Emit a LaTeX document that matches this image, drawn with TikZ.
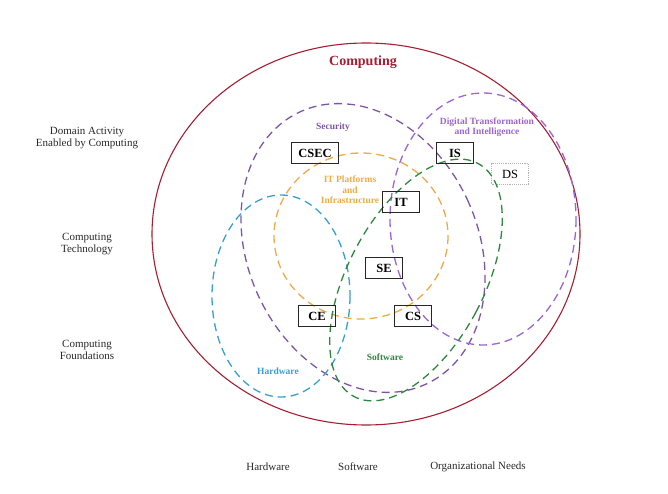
\documentclass[tikz,border=0pt]{standalone}
\usepackage{xcolor}
\usepackage{fontspec}
\setmainfont{Liberation Serif}
\usepackage{tikz}
\usetikzlibrary{positioning}
\definecolor{computingred}{RGB}{165,30,50}
\definecolor{securitypurple}{RGB}{125,85,165}
\definecolor{digitalpurple}{RGB}{155,100,215}
\definecolor{platformorange}{RGB}{238,170,70}
\definecolor{hardwareblue}{RGB}{55,160,210}
\definecolor{softwaregreen}{RGB}{45,135,60}
\definecolor{labelgray}{RGB}{40,40,40}

\begin{document}
\begin{tikzpicture}[
    x=1bp, y=-1bp,
    region/.style={line width=1.3bp, dash pattern=on 8bp off 5bp},
    program/.style={draw=black!85, line width=0.9bp, minimum width=37bp, minimum height=21.5bp, inner xsep=6bp, font=\bfseries\fontsize{12.5bp}{14bp}\selectfont},
    tag/.style={font=\bfseries\fontsize{9.5bp}{10.5bp}\selectfont, align=center},
    axislabel/.style={font=\fontsize{11bp}{11.5bp}\selectfont, align=center, text=labelgray}
]
    \useasboundingbox (0,0) rectangle (668,494);

    % Outer computing ellipse
    \draw[computingred, line width=1.1bp] (366,234) ellipse [x radius=214, y radius=191];
    \node[font=\bfseries\fontsize{14bp}{16bp}\selectfont, text=computingred] (computing) at (363,62) {Computing};

    % Dashed areas
    \draw[region, securitypurple, rotate around={25:(363,248)}] (363,248) ellipse [x radius=115, y radius=150];
    \draw[region, digitalpurple] (483,219) ellipse [x radius=93, y radius=126];
    \draw[region, hardwareblue] (281,296) ellipse [x radius=69, y radius=101];
    \draw[region, platformorange] (361,236) ellipse [x radius=87, y radius=83];
    \draw[region, softwaregreen, rotate around={-28:(416,280)}] (416,280) ellipse [x radius=68, y radius=132];

    % Area labels
    \node[tag, text=securitypurple] (securitytag) at (333,127) {Security};
    \node[tag, text=digitalpurple] (digitaltag) at (487,127) {Digital Transformation\\and Intelligence};
    \node[tag, text=platformorange] (platformtag) at (350,190) {IT Platforms\\and\\Infrastructure};
    \node[tag, text=softwaregreen] (softwaretag) at (385,357) {Software};
    \node[tag, text=hardwareblue] (hardwaretag) at (278,371) {Hardware};

    % Disciplines
    \node[program, minimum width=47bp] (csec) at (315,153) {CSEC};
    \node[program] (is) at (455,153) {IS};
    \node[program, draw=gray!60, densely dotted, font=\fontsize{12.5bp}{14bp}\selectfont] (ds) at (510,174) {DS};
    \node[program] (it) at (401,202) {IT};
    \node[program] (se) at (384,268) {SE};
    \node[program] (ce) at (317,316) {CE};
    \node[program] (cs) at (413,316) {CS};

    % Vertical axis
    \node[axislabel] (domain) at (87,138) {Domain Activity\\Enabled by Computing};
    \node[axislabel] (technology) at (87,244) {Computing\\Technology};
    \node[axislabel] (foundations) at (87,350) {Computing\\Foundations};

    % Horizontal axis
    \node[axislabel] (hardware) at (268,467) {Hardware};
    \node[axislabel] (software) at (358,467) {Software};
    \node[axislabel] (needs) at (478,467) {Organizational Needs};
\end{tikzpicture}
\end{document}
